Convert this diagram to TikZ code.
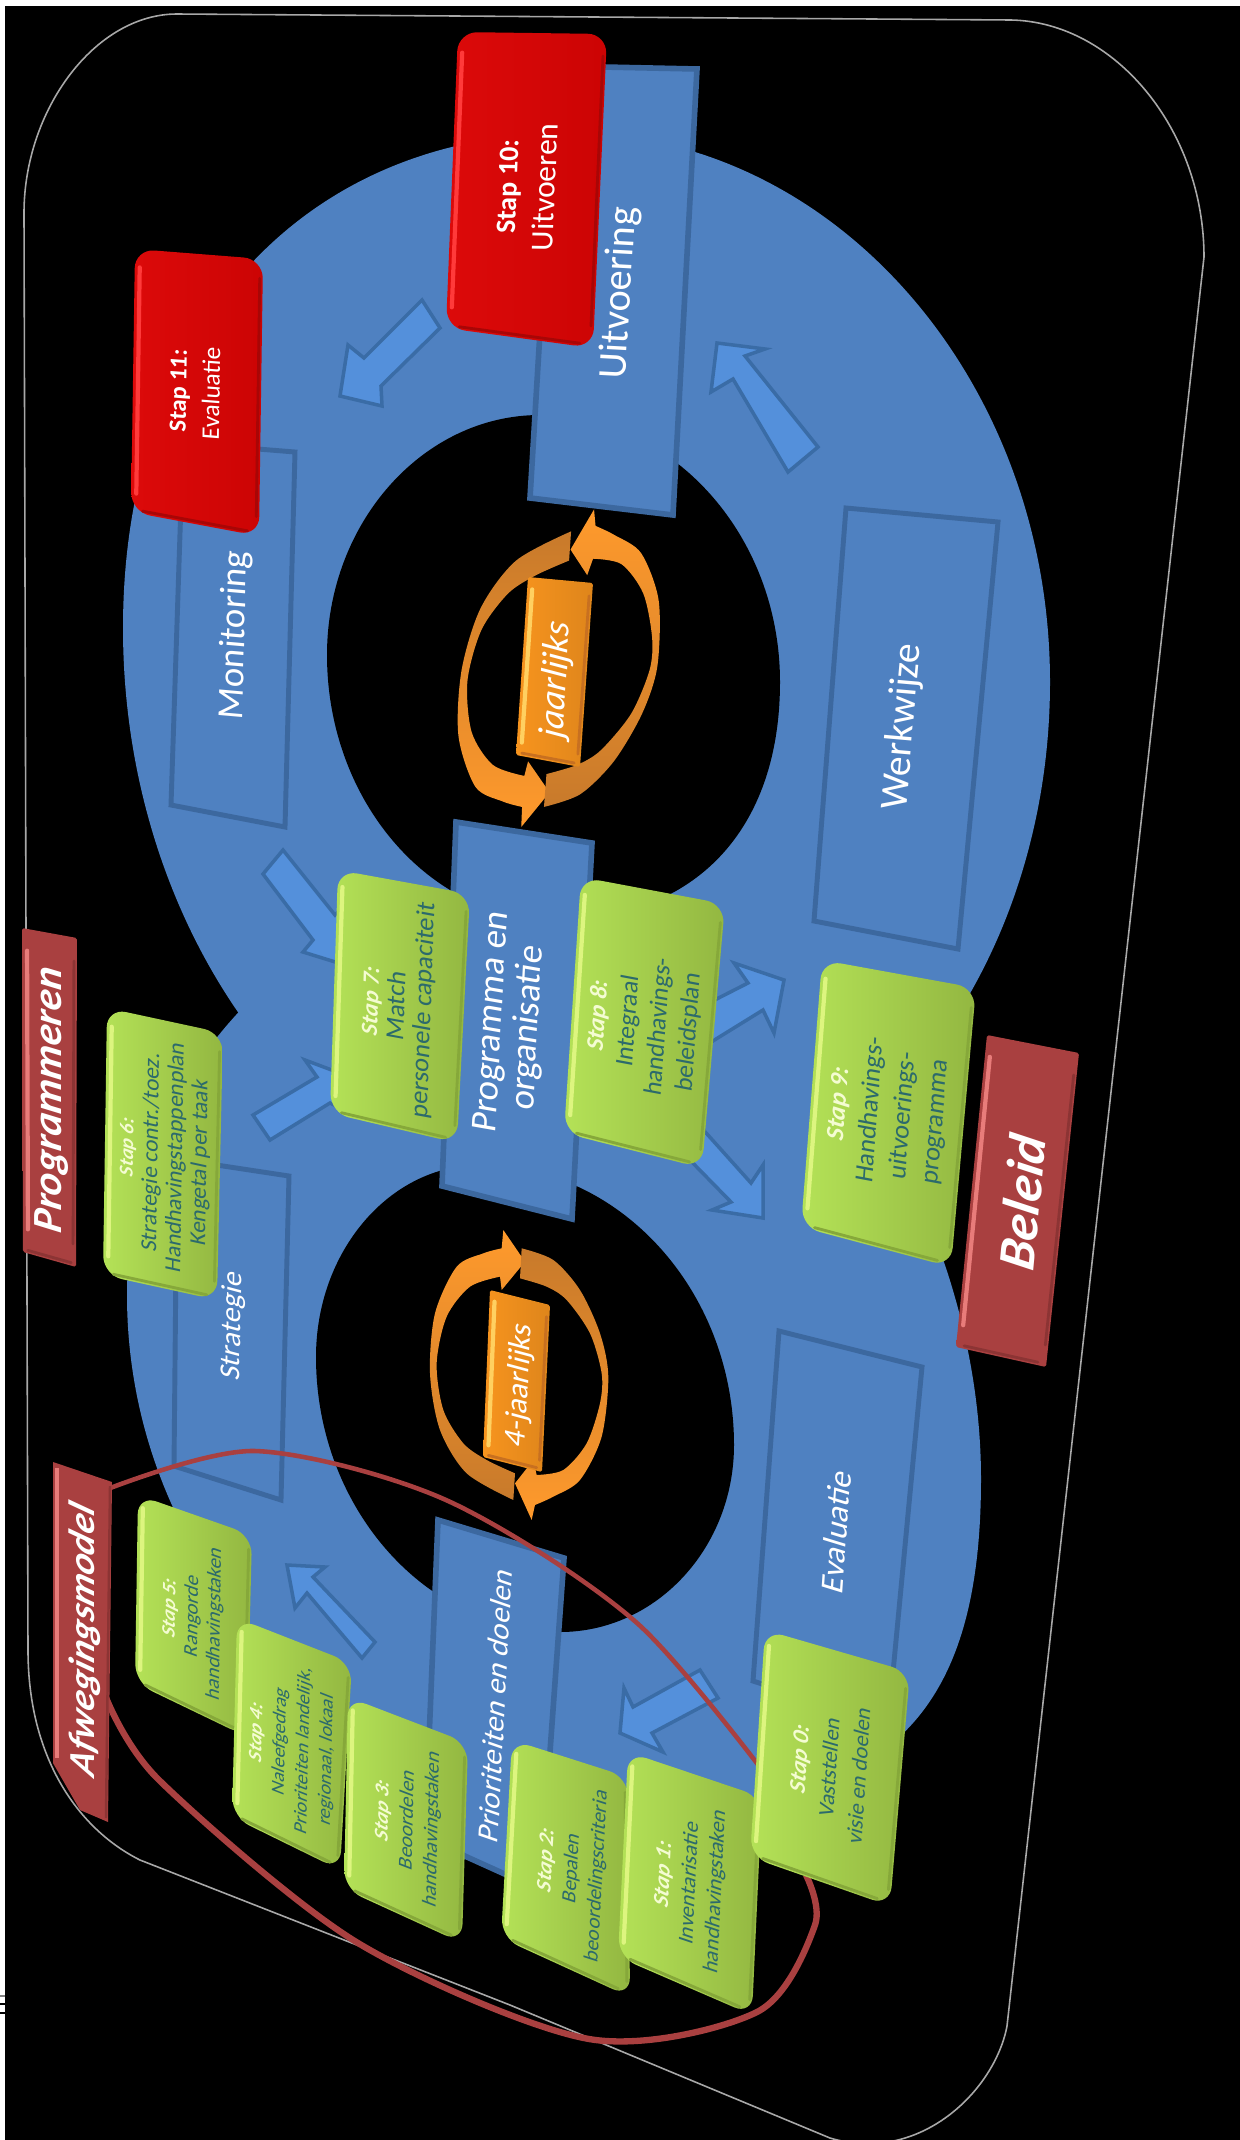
\documentclass[tikz,border=0pt]{standalone}
\usepackage{fontspec}
\setmainfont{Carlito}
\usetikzlibrary{calc}
\definecolor{ringblue}{HTML}{4F81C1}
\definecolor{boxline}{HTML}{3C689F}
\definecolor{arrowfill}{HTML}{5490DB}
\definecolor{arrowline}{HTML}{3A6CA6}
\definecolor{greenL}{HTML}{B4E257}
\definecolor{greenR}{HTML}{93B741}
\definecolor{greenHi}{HTML}{DDF57F}
\definecolor{greenLo}{HTML}{86A83A}
\definecolor{greenTxt}{HTML}{2C6A6C}
\definecolor{greenHead}{HTML}{F4FCD2}
\definecolor{redL}{HTML}{DC0A0A}
\definecolor{redR}{HTML}{CC0404}
\definecolor{redHi}{HTML}{FF3A3A}
\definecolor{redLo}{HTML}{A80606}
\definecolor{brownF}{HTML}{A94040}
\definecolor{brownHi}{HTML}{E87C7A}
\definecolor{brownLo}{HTML}{8C3434}
\definecolor{orgL}{HTML}{FF9A2C}
\definecolor{orgD}{HTML}{C87A2B}
\definecolor{orgBox}{HTML}{F7941E}
\definecolor{orgHi}{HTML}{FFD060}
\definecolor{orgLo}{HTML}{C87020}
\definecolor{framec}{HTML}{A8A8A8}
\tikzset{
  bluebox/.style={fill=ringblue,draw=boxline,line width=3.2pt,line join=miter},
  outlinebox/.style={draw=boxline,line width=2.8pt,line join=miter},
  blockarrow/.style={fill=arrowfill,draw=arrowline,line width=2pt,line join=miter},
  labeltext/.style={text=white,align=center,inner sep=0pt},
  steptext/.style={text=greenTxt,align=center,inner sep=0pt},
  redtext/.style={text=white,align=center,inner sep=0pt}
}
% name, centre, baseline angle, glyph-up angle, node style, font, text
\newcommand{\qtext}[7]{%
  \pgfmathsetmacro\qca{cos(#3)}\pgfmathsetmacro\qsa{sin(#3)}%
  \pgfmathsetmacro\qcb{cos(#4)}\pgfmathsetmacro\qsb{sin(#4)}%
  \begin{scope}[shift={(#2)}]\begin{scope}[cm={\qca,\qsa,\qcb,\qsb,(0,0)}]
    \node[#5,font=#6,transform shape] (#1) at (0,0) {#7};
  \end{scope}\end{scope}}
% corners A B C D, left colour, right colour, high, low, radius
\newcommand{\bevelbox}[9]{%
  \coordinate (qa) at (#1);\coordinate (qb) at (#2);\coordinate (qc) at (#3);\coordinate (qd) at (#4);
  \shade[left color=#5,right color=#6,rounded corners=#9] (qa)--(qb)--(qc)--(qd)--cycle;
  \draw[#7,line width=2.4pt,line cap=round] ($(qa)!.07!(qd)+(5,0)$) -- ($(qd)!.07!(qa)+(5,0)$);
  \draw[#8,line width=1.6pt,line cap=round] ($(qb)!.07!(qc)+(-3,0)$) -- ($(qc)!.07!(qb)+(-3,0)$);
  \draw[#8,line width=1.6pt,line cap=round] ($(qd)!.09!(qc)+(0,-3)$) -- ($(qc)!.09!(qd)+(0,-3)$);
}
\newcommand{\gbox}[4]{\bevelbox{#1}{#2}{#3}{#4}{greenL}{greenR}{greenHi}{greenLo}{11pt}}
\newcommand{\rbox}[4]{\bevelbox{#1}{#2}{#3}{#4}{redL}{redR}{redHi}{redLo}{11pt}}
\newcommand{\bbox}[4]{\bevelbox{#1}{#2}{#3}{#4}{brownF}{brownF}{brownHi}{brownLo}{1pt}}
\newcommand{\obox}[4]{\bevelbox{#1}{#2}{#3}{#4}{orgBox}{orgBox!90!black}{orgHi}{orgLo}{1pt}}
\newcommand{\stepfont}[2]{\fontsize{#1}{#2}\selectfont}
\newcommand{\orangering}[5]{%
  \begin{scope}[cm={#1}]
  \shade[top color=#2,bottom color=#3]
    plot[smooth] coordinates {(280,810)(140,730)(60,600)(30,430)(45,250)(110,110)(190,70)(245,55)}
    -- (250,0) -- (315,95) -- (245,180) --
    plot[smooth] coordinates {(240,140)(150,170)(80,260)(50,400)(70,540)(130,640)(200,690)(285,730)} -- cycle;
  \shade[top color=#4,bottom color=#5]
    plot[smooth] coordinates {(305,55)(400,90)(480,180)(540,310)(565,440)(545,620)(480,750)(400,800)(345,825)}
    -- (335,870) -- (285,760) -- (340,690) --
    plot[smooth] coordinates {(350,735)(430,720)(500,640)(540,520)(545,430)(510,310)(440,210)(380,170)(300,145)} -- cycle;
  \end{scope}}
\begin{document}
\begin{tikzpicture}[x=0.02cm,y=-0.02cm]
\useasboundingbox (0,0) rectangle (1240,2140);
\fill[white] (0,0) rectangle (1240,2140);
\fill[black] (5,6) rectangle (1240,2140);
\draw[gray,line width=.8pt] (0,1996) -- (5,1996);
\draw[black,line width=1pt] (0,2004) -- (5,2004);
\draw[black,line width=1pt] (0,2013) -- (5,2013);
% frame
\draw[framec,line width=.9pt] (24,213) .. controls (24,110) and (95,14) .. (177,14) -- (1011,20)
  .. controls (1115,22) and (1204,130) .. (1204,257) -- (1007,2026)
  .. controls (995,2090) and (920,2165) .. (830,2138) -- (510,2005) -- (140,1860)
  .. controls (80,1830) and (28,1760) .. (28,1650) -- cycle;
% ring lobes
\fill[ringblue] (123,628) .. controls (123,331) and (302,133) .. (570,133)
  .. controls (834,133) and (1050,380) .. (1050,682)
  .. controls (1050,981) and (852,1225) .. (610,1225)
  .. controls (342,1225) and (123,956) .. (123,628) -- cycle;
\fill[ringblue] (127,1295) .. controls (127,1067) and (313,880) .. (540,880)
  .. controls (760,880) and (981,1180) .. (981,1479)
  .. controls (981,1717) and (886,1810) .. (640,1810)
  .. controls (358,1810) and (127,1578) .. (127,1295) -- cycle;
% holes
\fill[black] (327,655) .. controls (327,523) and (423,415) .. (540,415)
  .. controls (672,415) and (780,535) .. (780,682)
  .. controls (780,830) and (695,920) .. (555,920)
  .. controls (430,920) and (327,801) .. (327,655) -- cycle;
\fill[black] (316,1357) .. controls (316,1251) and (390,1165) .. (480,1165)
  .. controls (620,1165) and (734,1291) .. (734,1445)
  .. controls (734,1548) and (656,1632) .. (560,1632)
  .. controls (426,1632) and (316,1508) .. (316,1357) -- cycle;
% blue boxes
\draw[bluebox] (556,66) -- (697,69) -- (673,515) -- (530,498) -- cycle;
\draw[outlinebox] (183,443) -- (295,452) -- (285,827) -- (171,805) -- cycle;
\draw[outlinebox] (846,508) -- (998,522) -- (958,949) -- (814,921) -- cycle;
\draw[bluebox] (456,822) -- (592,843) -- (572,1219) -- (442,1186) -- cycle;
\draw[outlinebox] (177,1159) -- (289,1176) -- (281,1500) -- (174,1466) -- cycle;
\draw[outlinebox] (779,1331) -- (922,1367) -- (888,1725) -- (753,1681) -- cycle;
\draw[bluebox] (438,1520) -- (564,1558) -- (540,1890) -- (425,1838) -- cycle;
% block arrows
\draw[blockarrow] (818,447) -- (745,356) -- (765,349) -- (717,343) -- (711,392) -- (733,379) -- (788,472) -- cycle;
\draw[blockarrow] (422,300) -- (364,358) -- (348,345) -- (340,396) -- (382,406) -- (381,386) -- (440,328) -- cycle;
\draw[blockarrow] (283,850) -- (335,915) -- (345,905) -- (345,965) -- (303,952) -- (313,940) -- (263,874) -- cycle;
\draw[blockarrow] (253,1115) -- (317,1077) -- (305,1060) -- (345,1075) -- (345,1110) -- (330,1103) -- (270,1140) -- cycle;
\draw[blockarrow] (695,1010) -- (748,983) -- (734,963) -- (784,980) -- (774,1033) -- (763,1010) -- (695,1052) -- cycle;
\draw[blockarrow] (690,1115) -- (751,1183) -- (763,1165) -- (763,1218) -- (712,1210) -- (731,1202) -- (685,1155) -- cycle;
\draw[blockarrow] (700,1670) -- (718,1698) -- (652,1733) -- (663,1752) -- (620,1733) -- (624,1688) -- (633,1707) -- cycle;
\draw[blockarrow] (375,1642) -- (313,1577) -- (325,1567) -- (287,1565) -- (295,1608) -- (307,1593) -- (362,1658) -- cycle;
% red ellipse
\draw[brownF,line width=2.6pt] plot[smooth] coordinates {(105,1490)(255,1451)(446,1500)(637,1623)(785,1800)};
\draw[brownF,line width=3.6pt] plot[smooth] coordinates {(806,1875)(815,1925)(757,2012)(589,2039)(358,1943)(159,1780)(105,1695)};
% orange rings
\orangering{.3333,0,0,.3333,(420,1230)}{orgL}{orgD}{orgD}{orgL}
\orangering{.365,0,-.048,-.365,(430,827)}{orgD}{orgL}{orgL}{orgD}
% text on blue
\qtext{tuit}{620,293}{86.7}{177}{labeltext}{\stepfont{23}{27}}{Uitvoering}
\qtext{tmon}{235,635}{88.5}{175}{labeltext}{\stepfont{21}{25}}{Monitoring}
\qtext{twer}{903,727}{85}{175}{labeltext}{\stepfont{22.5}{26}}{Werkwijze}
\qtext{tpro}{511,1025}{87}{170}{labeltext}{\stepfont{21}{21}}{Programma en\\organisatie}
\qtext{tstr}{233,1326}{89}{165}{labeltext}{\stepfont{17}{20}}{Strategie}
\qtext{teva}{836,1531}{86}{163}{labeltext}{\stepfont{19}{22}}{Evaluatie}
\qtext{tpri}{495,1705}{87}{161}{labeltext}{\stepfont{17.5}{21}}{Prioriteiten en doelen}
% orange boxes
\obox{528,577}{593,583}{580,767}{516,755}
\qtext{tjr}{557,680}{87}{172}{labeltext}{\stepfont{21}{25}\itshape}{jaarlijks}
\obox{490,1290}{550,1305}{542,1472}{483,1457}
\qtext{tvj}{520,1385}{87}{165}{labeltext}{\stepfont{18}{21}}{4-jaarlijks}
% steps
\rbox{458,32}{607,34}{593,348}{446,328}
\qtext{s10}{527,187}{87.7}{179.2}{redtext}{\stepfont{18}{22}}{{\bfseries\stepfont{16}{22}Stap 10:}\\Uitvoeren}
\rbox{135,249}{263,259}{259,536}{131,512}
\qtext{s11}{195,392}{89.1}{175.5}{redtext}{\stepfont{14.5}{19}}{{\bfseries\stepfont{14}{19}Stap 11:}\\Evaluatie}
\gbox{107,1008}{223,1033}{217,1300}{103,1275}
\qtext{s6}{165,1155}{89.1}{167.8}{steptext}{\stepfont{13.3}{14.2}}{{\bfseries\itshape\color{greenHead}\stepfont{11.5}{14.2}Stap 6:}\\Strategie contr./toez.\\Handhavingstappenplan\\Kengetal per taak}
\gbox{338,870}{470,894}{457,1143}{330,1113}
\qtext{s7}{399,1006}{88.1}{169.7}{steptext}{\stepfont{15}{15.3}}{{\bfseries\itshape\color{greenHead}\stepfont{13.5}{15.3}Stap 7:}\\Match\\personele capaciteit}
\gbox{581,877}{725,904}{702,1168}{564,1133}
\qtext{s8}{644,1024}{86}{169.4}{steptext}{\stepfont{14.5}{17.5}}{{\bfseries\itshape\color{greenHead}\stepfont{14}{17.5}Stap 8:}\\Integraal\\handhavings-\\beleidsplan}
\gbox{822,960}{976,988}{951,1267}{801,1227}
\qtext{s9}{888,1113}{85.7}{169.4}{steptext}{\stepfont{15}{18.7}}{{\bfseries\itshape\color{greenHead}\stepfont{14.5}{18.7}Stap 9:}\\Handhavings-\\uitvoerings-\\programma}
\gbox{138,1495}{252,1535}{247,1737}{135,1683}
\qtext{s5}{193,1616}{89.1}{160.7}{steptext}{\stepfont{11.8}{13.5}}{{\bfseries\itshape\color{greenHead}\stepfont{11.5}{13.5}Stap 5:}\\Rangorde\\handhavingstaken}
\gbox{237,1618}{352,1663}{340,1870}{232,1817}
\qtext{s4}{292,1746}{88.6}{158.6}{steptext}{\stepfont{11.2}{14.2}}{{\bfseries\itshape\color{greenHead}\stepfont{11.5}{14.2}Stap 4:}\\Naleefgedrag\\Prioriteiten landelijk,\\regionaal, lokaal}
\gbox{348,1697}{468,1743}{462,1943}{344,1889}
\qtext{s3}{408,1820}{88.8}{159}{steptext}{\stepfont{12}{15}}{{\bfseries\itshape\color{greenHead}\stepfont{12}{15}Stap 3:}\\Beoordelen\\handhavingstaken}
\gbox{512,1740}{628,1777}{630,1997}{501,1938}
\qtext{s2}{572,1868}{86.8}{162.3}{steptext}{\stepfont{12}{15}}{{\bfseries\itshape\color{greenHead}\stepfont{12.5}{15}Stap 2:}\\Bepalen\\beoordelingscriteria}
\gbox{628,1752}{762,1797}{752,2015}{618,1957}
\qtext{s1}{690,1883}{87.2}{161.4}{steptext}{\stepfont{12.6}{15.5}}{{\bfseries\itshape\color{greenHead}\stepfont{13}{15.5}Stap 1:}\\Inventarisatie\\handhavingstaken}
\gbox{765,1630}{910,1672}{890,1906}{750,1857}
\qtext{s0}{829,1767}{86.2}{163.8}{steptext}{\stepfont{12.8}{17.5}}{{\bfseries\itshape\color{greenHead}\stepfont{13.5}{17.5}Stap 0:}\\Vaststellen\\visie en doelen}
% labels
\bbox{22,928}{77,938}{76,1267}{23,1252}
\qtext{lprog}{52,1100}{90}{169.7}{labeltext}{\stepfont{24}{27}\bfseries\itshape}{Programmeren}
\bbox{987,1035}{1079,1053}{1046,1367}{956,1347}
\qtext{lbel}{1022,1202}{84.5}{168.6}{labeltext}{\stepfont{30}{33}\bfseries\itshape}{Beleid}
\fill[brownF] (53,1462) -- (112,1482) -- (108,1822) -- (80,1810) -- (53,1763) -- cycle;
\draw[brownHi,line width=2.4pt] (57,1468) -- (57,1758);
\draw[brownLo,line width=1.4pt] (110,1486) -- (106,1818);
\qtext{lafw}{85,1640}{90}{161.3}{labeltext}{\stepfont{22}{26}\bfseries\itshape}{Afwegingsmodel}
\end{tikzpicture}
\end{document}
